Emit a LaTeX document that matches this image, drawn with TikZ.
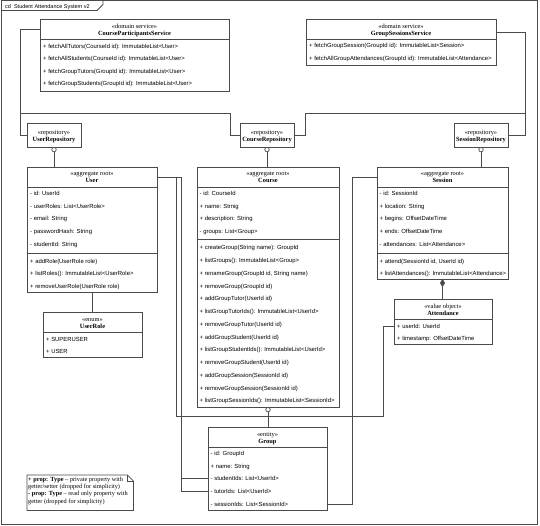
\documentclass[tikz,border=0pt]{standalone}
\usepackage{fontspec}
\setmainfont{Liberation Serif}
\setsansfont{Liberation Sans}
\usetikzlibrary{shapes.geometric,calc}
\definecolor{ln}{HTML}{4A4A4A}
\newcommand{\umlbox}[5]{\node[box, minimum width={(#4)-(#2)}, minimum height={(#5)-(#3)}] (#1) at (#2,#3) {};}
\newcommand{\sepline}[2]{\draw[conn] (#1.west |- 0,#2) -- (#1.east |- 0,#2);}
\newcommand{\hdr}[4]{%
  \node[stereo] (#1-st) at ([yshift=-#4pt]#1.north) {«#2»};
  \node[cname] (#1-nm) at ([yshift=-#4pt-7pt]#1.north) {#3};}
\newcommand{\rows}[5]{%
  \foreach \t [count=\i from 0] in {#5} {\node[rowtxt] (#1-r\i) at ({#2},{#3+#4*\i}) {\t};}}
\begin{document}
\begin{tikzpicture}[x=1pt,y=-1pt,
  box/.style={draw=ln, line width=0.8pt, fill=white, anchor=north west, inner sep=0pt, outer sep=0pt},
  conn/.style={draw=ln, line width=0.8pt},
  rowtxt/.style={font=\sffamily\fontsize{5.9}{7}\selectfont, anchor=mid west, inner sep=0pt},
  stereo/.style={font=\rmfamily\fontsize{6.4}{7}\selectfont, inner sep=0pt, anchor=mid},
  cname/.style={font=\rmfamily\bfseries\fontsize{6.4}{7}\selectfont, inner sep=0pt, anchor=mid},
  lolli/.style={circle, draw=ln, fill=white, line width=0.7pt, inner sep=0pt, minimum size=4.5pt, anchor=north},
  notetxt/.style={font=\rmfamily\fontsize{6.3}{7.4}\selectfont, align=left, inner sep=0pt, anchor=north west},
]
\useasboundingbox (0,0) rectangle (540,525);
\fill[white] (0,0) rectangle (540,525);
% frame
\draw[conn] (1,0.5) rectangle (537.5,524);
\node[font=\sffamily\fontsize{5.5}{6}\selectfont, anchor=mid west, inner sep=0pt] (title) at (5,6.5) {cd\ \ Student Attendance System v2};
\draw[conn] (1,10.5) -- (97,10.5) -- (103,4.5) -- (103,0.5);

% services
\umlbox{cps}{40}{19}{229}{91}
\hdr{cps}{domain service}{CourseParticipantsService}{7.5}
\sepline{cps}{39}
\rows{cps}{43}{46}{12.5}{{+ fetchAllTutors(CourseId id): ImmutableList<User>},{+ fetchAllStudents(CourseId id): ImmutableList<User>},{+ fetchGroupTutors(GroupId id): ImmutableList<User>},{+ fetchGroupStudents(GroupId id): ImmutableList<User>}}

\umlbox{gss}{306}{19}{496}{65}
\hdr{gss}{domain service}{GroupSessionsService}{7.5}
\sepline{gss}{39}
\rows{gss}{309}{45.5}{13}{{+ fetchGroupSession(GroupId id): ImmutableList<Session>},{+ fetchAllGroupAttendances(GroupId id): ImmutableList<Attendance>}}

% repositories
\umlbox{ur}{27}{123}{81}{147}
\hdr{ur}{repository}{UserRepository}{9.5}
\umlbox{cr}{240}{123}{294}{147}
\hdr{cr}{repository}{CourseRepository}{9.5}
\umlbox{sr}{454}{123}{508}{147}
\hdr{sr}{repository}{SessionRepository}{9.5}

% User
\umlbox{user}{27}{167}{157}{292}
\hdr{user}{aggregate root}{User}{6.5}
\sepline{user}{187}
\sepline{user}{253}
\rows{user}{30}{193}{12.75}{{- id: UserId},{- userRoles: List<UserRole>},{- email: String},{- passwordHash: String},{- studentId: String}}
\rows{userm}{30}{261}{12.5}{{+ addRole(UserRole role)},{+ listRoles(): ImmutableList<UserRole>},{+ removeUserRole(UserRole role)}}

% Course
\umlbox{course}{197}{167}{339}{407}
\hdr{course}{aggregate root}{Course}{6.5}
\sepline{course}{187}
\sepline{course}{239}
\rows{course}{199.5}{193}{12.8}{{- id: CourseId},{+ name: Strnig},{+ description: String},{- groups: List<Group>}}
\rows{coursem}{199.5}{247.5}{12.75}{{+ createGroup(String name): GroupId},{+ listGroups(): ImmutableList<Group>},{+ renameGroup(GroupId id, String name)},{+ removeGroup(GroupId id)},{+ addGroupTutor(UserId id)},{+ listGroupTutorIds(): ImmutableList<UserId>},{+ removeGroupTutor(UserId id)},{+ addGroupStudent(UserId id)},{+ listGroupStudentIds(): ImmutableList<UserId>},{+ removeGroupStudent(UserId id)},{+ addGroupSession(SessionId id)},{+ removeGroupSession(SessionId id)},{+ listGroupSessionIds(): ImmutableList<SessionId>}}

% Session
\umlbox{session}{377}{167}{508}{279}
\hdr{session}{aggregate root}{Session}{6.5}
\sepline{session}{187}
\sepline{session}{253}
\rows{session}{379.5}{193}{12.75}{{- id: SessionId},{+ location: String},{+ begins: OffsetDateTime},{+ ends: OffsetDateTime},{- attendances: List<Attendance>}}
\rows{sessionm}{379.5}{261}{12.5}{{+ attend(SessionId id, UserId id)},{+ listAttendances(): ImmutableList<Attendance>}}

% UserRole
\umlbox{role}{43}{312}{142}{357}
\hdr{role}{enum}{UserRole}{7.5}
\sepline{role}{332}
\rows{role}{46}{339}{12}{{+ SUPERUSER},{+ USER}}

% Attendance
\umlbox{att}{394}{299}{492}{344}
\hdr{att}{value object}{Attendance}{7}
\sepline{att}{319}
\rows{att}{397}{326}{12.5}{{+ userId: UserId},{+ timestamp: OffsetDateTime}}

% Group
\umlbox{grp}{208}{427}{327}{510}
\hdr{grp}{entity}{Group}{7}
\sepline{grp}{447}
\rows{grp}{210.5}{453}{12.75}{{- id: GroupId},{+ name: String},{- studentIds: List<UserId>},{- tutorIds: List<UserId>},{- sessionIds: List<SessionId>}}

% note
\node[anchor=north west, inner sep=0pt, minimum width=106pt, minimum height=35pt] (note) at (27,475) {};
\draw[conn, fill=white] (note.north west) -- ([xshift=-6pt]note.north east) -- ([yshift=-6pt]note.north east) -- (note.south east) -- (note.south west) -- cycle;
\draw[conn] ([xshift=-6pt]note.north east) |- ([yshift=-6pt]note.north east);
\node[notetxt] (notetext) at (28,476.5) {\textbf{+ prop: Type} – private property with\\getter/setter (dropped for simplicity)\\\textbf{- prop: Type} – read only property with\\getter (dropped for simplicity)};

% service connectors
\draw[conn] ([yshift=-10pt]cps.north west) -- ++(-20,0) |- (ur.west);
\draw[conn] ([yshift=-10pt]cps.north west) -- ++(-20,0) |- (230,113) |- (cr.west);
\draw[conn] ([yshift=-13pt]gss.north east) -- ++(29,0) |- (sr.east);
\draw[conn] ([yshift=-13pt]gss.north east) -- ++(29,0) |- (305,113) |- (cr.east);

% repository aggregations
\node[lolli] (ur-c) at (ur.south) {};
\draw[conn] (ur-c) -- (ur-c |- user.north);
\node[lolli] (cr-c) at (cr.south) {};
\draw[conn] (cr-c) -- (cr-c |- course.north);
\node[lolli] (sr-c) at (sr.south) {};
\draw[conn] (sr-c) -- (sr-c |- session.north);
\node[lolli] (course-c) at (course.south) {};
\draw[conn] (course-c) -- (course-c |- grp.north);

% composition Session - Attendance
\node[diamond, draw=ln, fill=ln, line width=0.5pt, inner sep=0pt, minimum width=4.5pt, minimum height=7.5pt, anchor=north] (ses-d) at (session.south) {};
\draw[conn] (ses-d) -- (ses-d |- att.north);

% User - UserRole
\draw[conn] (user.south) -- (user.south |- role.north);

% references
\draw[conn] ([yshift=-10pt]user.north east) -| (176,416) -| ($(att.west |- att-r0)+(-11,0)$) -- (att.west |- att-r0);
\draw[conn] ([yshift=-10pt]user.north east) -| ($(grp.west |- grp-r2)+(-26.5,0)$) -- (grp.west |- grp-r2);
\draw[conn] ([yshift=-10pt]user.north east) -| ($(grp.west |- grp-r3)+(-26.5,0)$) -- (grp.west |- grp-r3);
\draw[conn] ([yshift=-10pt]session.north west) -| ($(grp.east |- grp-r4)+(25,0)$) -- (grp.east |- grp-r4);
\end{tikzpicture}
\end{document}
